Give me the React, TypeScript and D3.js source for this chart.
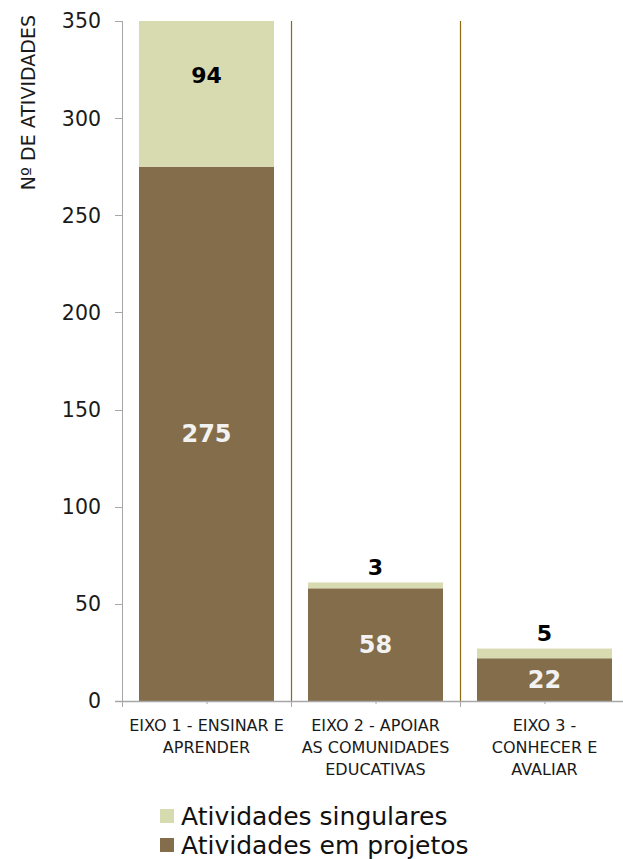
import { useEffect, useRef } from "react";
import * as d3 from "d3";

const categories = [
  ["EIXO 1 - ENSINAR E", "APRENDER"],
  ["EIXO 2 - APOIAR", "AS COMUNIDADES", "EDUCATIVAS"],
  ["EIXO 3 -", "CONHECER E", "AVALIAR"],
];
const emProjetos = [275, 58, 22];
const singulares = [94, 3, 5];
const yTicks = [0, 50, 100, 150, 200, 250, 300, 350];
const seriesNames = ["Atividades singulares", "Atividades em projetos"];

const COL_DARK = "#836d4a";
const COL_LIGHT = "#d8dab0";
const FONT = "'Century Gothic', 'DejaVu Sans', sans-serif";

export default function App() {
  const ref = useRef<SVGSVGElement | null>(null);
  const width = 623;
  const height = 859;
  const margin = { top: 21, right: 0, bottom: 158, left: 122 };

  useEffect(() => {
    const svg = d3.select(ref.current);
    svg.selectAll("*").remove();

    const x = d3
      .scaleBand<number>()
      .domain(d3.range(categories.length))
      .range([margin.left, 629])
      .paddingInner(0.2)
      .paddingOuter(0.1);
    const y = d3.scaleLinear().domain([0, 350]).range([height - margin.bottom, margin.top]);
    const yc = (v: number) => y(Math.min(v, 350));
    const step = x.step();
    const bandStart = (i: number) => margin.left + i * step;

    const g = svg.append("g");

    // separator lines between categories
    [1, 2].forEach((i) => {
      g.append("line")
        .attr("x1", bandStart(i) + 0.5)
        .attr("x2", bandStart(i) + 0.5)
        .attr("y1", y(350))
        .attr("y2", y(0))
        .attr("stroke", "#8b6a14")
        .attr("stroke-width", 1.2);
    });

    // bars
    const bw = 135;
    categories.forEach((_, i) => {
      const cx = bandStart(i) + step / 2;
      const base = emProjetos[i];
      const total = base + singulares[i];
      g.append("rect")
        .attr("x", cx - bw / 2)
        .attr("width", bw)
        .attr("y", yc(base))
        .attr("height", y(0) - yc(base))
        .attr("fill", COL_DARK);
      g.append("rect")
        .attr("x", cx - bw / 2)
        .attr("width", bw)
        .attr("y", yc(total))
        .attr("height", yc(base) - yc(total))
        .attr("fill", COL_LIGHT);

      // labels
      g.append("text")
        .attr("x", cx)
        .attr("y", y(base / 2))
        .attr("dy", "0.36em")
        .attr("text-anchor", "middle")
        .attr("font-family", FONT)
        .attr("font-weight", "bold")
        .attr("font-size", 24)
        .attr("fill", "#f2f2f2")
        .text(base);
      const bigEnough = y(base) - y(total) > 40;
      g.append("text")
        .attr("x", cx)
        .attr("y", bigEnough ? y(base + singulares[i] / 2) : y(total) - 15)
        .attr("dy", "0.36em")
        .attr("text-anchor", "middle")
        .attr("font-family", FONT)
        .attr("font-weight", "bold")
        .attr("font-size", 22)
        .attr("fill", "#000")
        .text(singulares[i]);
    });

    // y axis
    const yAxis = g.append("g");
    yAxis
      .append("line")
      .attr("x1", margin.left + 0.5)
      .attr("x2", margin.left + 0.5)
      .attr("y1", y(350))
      .attr("y2", y(0))
      .attr("stroke", "#a6a6a6");
    yTicks.forEach((t) => {
      yAxis
        .append("line")
        .attr("x1", margin.left - 7)
        .attr("x2", margin.left)
        .attr("y1", Math.round(y(t)) + 0.5)
        .attr("y2", Math.round(y(t)) + 0.5)
        .attr("stroke", "#a6a6a6");
      yAxis
        .append("text")
        .attr("x", 101)
        .attr("y", y(t))
        .attr("dy", "0.36em")
        .attr("text-anchor", "end")
        .attr("font-family", FONT)
        .attr("font-size", 20.5)
        .attr("fill", "#1a1a1a")
        .text(t);
    });

    // x axis
    const xAxis = g.append("g");
    xAxis
      .append("line")
      .attr("x1", margin.left - 7)
      .attr("x2", 629)
      .attr("y1", y(0) + 0.5)
      .attr("y2", y(0) + 0.5)
      .attr("stroke", "#a6a6a6")
      .attr("stroke-width", 1.5);
    d3.range(categories.length + 1).forEach((i) => {
      xAxis
        .append("line")
        .attr("x1", bandStart(i) + 0.5)
        .attr("x2", bandStart(i) + 0.5)
        .attr("y1", y(0))
        .attr("y2", y(0) + 6)
        .attr("stroke", "#a6a6a6");
    });
    categories.forEach((lines, i) => {
      const cx = bandStart(i) + step / 2;
      xAxis
        .append("line")
        .attr("x1", cx + 0.5)
        .attr("x2", cx + 0.5)
        .attr("y1", y(0))
        .attr("y2", y(0) + 3)
        .attr("stroke", "#a6a6a6");
      lines.forEach((ln, j) => {
        xAxis
          .append("text")
          .attr("x", cx)
          .attr("y", 731 + j * 22)
          .attr("text-anchor", "middle")
          .attr("font-family", FONT)
          .attr("font-size", 16)
          .attr("fill", "#1a1a1a")
          .text(ln);
      });
    });

    // y title
    g.append("text")
      .attr("transform", `translate(35,15) rotate(-90)`)
      .attr("text-anchor", "end")
      .attr("font-family", FONT)
      .attr("font-size", 19)
      .attr("fill", "#1a1a1a")
      .text("Nº DE ATIVIDADES");

    // legend
    const legendColors = [COL_LIGHT, COL_DARK];
    seriesNames.forEach((name, i) => {
      const ly = 816 + i * 29;
      g.append("rect")
        .attr("x", 160)
        .attr("y", ly - 7)
        .attr("width", 14)
        .attr("height", 14)
        .attr("fill", legendColors[i]);
      g.append("text")
        .attr("x", 181)
        .attr("y", ly)
        .attr("dy", "0.36em")
        .attr("font-family", FONT)
        .attr("font-size", 25)
        .attr("fill", "#111")
        .text(name);
    });
  }, []);

  return (
    <svg
      ref={ref}
      width={width}
      height={height}
      style={{ position: "absolute", left: 0, top: 0 }}
    />
  );
}
